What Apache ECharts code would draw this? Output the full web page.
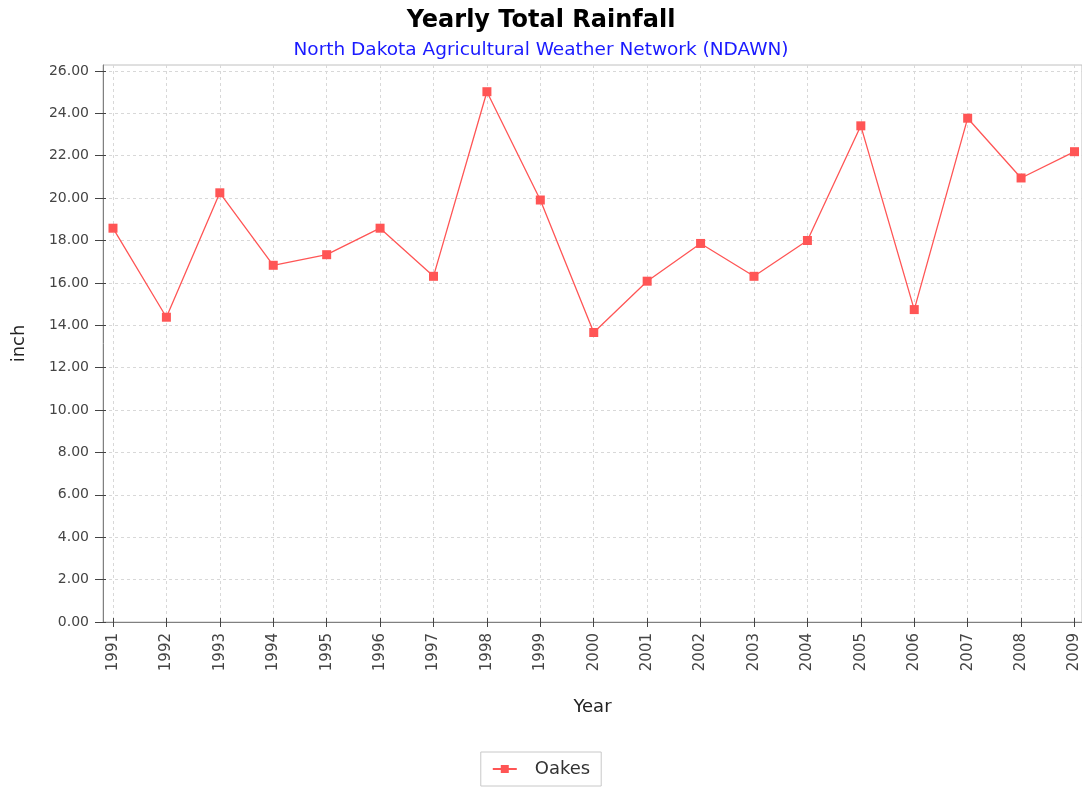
<!DOCTYPE html>
<html>
<head>
<meta charset="utf-8">
<script src="https://cdn.jsdelivr.net/npm/echarts@6/dist/echarts.min.js"></script>
<style>
  html, body { margin: 0; padding: 0; background: #fff; }
  #chart { width: 1082px; height: 787px; }
</style>
</head>
<body>
<div id="chart"></div>
<script>
const years = [1991, 1992, 1993, 1994, 1995, 1996, 1997, 1998, 1999, 2000,
  2001, 2002, 2003, 2004, 2005, 2006, 2007, 2008, 2009];
const oakes = [18.58, 14.38, 20.25, 16.83, 17.33, 18.58, 16.31, 25.02, 19.91, 13.66,
  16.08, 17.86, 16.31, 18.0, 23.41, 14.74, 23.77, 20.95, 22.19];
const yTicks = [0, 2, 4, 6, 8, 10, 12, 14, 16, 18, 20, 22, 24, 26];

const font = 'DejaVu Sans';
const xMin = 1990.813, xMax = 2009.14;
const yMin = 0, yMax = 26.28;
const chart = echarts.init(document.getElementById('chart'));

chart.setOption({
  animation: false,
  backgroundColor: '#fff',
  title: [{
    text: 'Yearly Total Rainfall',
    left: 'center',
    top: 4,
    textStyle: { fontFamily: font, fontSize: 24, fontWeight: 'bold', color: '#000' }
  }, {
    text: 'North Dakota Agricultural Weather Network (NDAWN)',
    left: 'center',
    top: 36,
    textStyle: { fontFamily: font, fontSize: 18.5, fontWeight: 'normal', color: '#1a1aff' }
  }],
  legend: {
    left: 'center',
    top: 752,
    padding: [8, 11, 8, 11],
    borderColor: '#c8c8c8',
    borderWidth: 1,
    itemWidth: 24,
    itemHeight: 10,
    textStyle: { fontFamily: font, fontSize: 18, color: '#333', padding: [0, 0, 0, 13] },
    data: ['Oakes']
  },
  grid: {
    left: 103, right: 0, top: 65, bottom: 165,
    show: true, borderColor: '#c0c0c0', borderWidth: 1
  },
  xAxis: [{
    type: 'value',
    min: xMin,
    max: xMax,
    name: 'Year',
    nameLocation: 'middle',
    nameGap: 76,
    nameTextStyle: { fontFamily: font, fontSize: 18, color: '#222' },
    axisLine: { lineStyle: { color: '#808080', width: 1 } },
    axisTick: { show: true, length: 5, customValues: years, lineStyle: { color: '#444' } },
    axisLabel: {
      customValues: years, rotate: 90, margin: 11,
      fontFamily: font, fontSize: 15, color: '#444',
      formatter: v => String(v)
    },
    splitLine: { show: true, lineStyle: { color: '#d8d8d8', type: [3, 3] } }
  }, {
    type: 'value',
    position: 'bottom',
    min: xMin,
    max: xMax,
    axisLine: { show: false },
    axisTick: { show: true, inside: true, length: 4, customValues: years, lineStyle: { color: '#444' } },
    axisLabel: { show: false },
    splitLine: { show: false }
  }],
  yAxis: [{
    type: 'value',
    min: yMin,
    max: yMax,
    name: 'inch',
    nameLocation: 'middle',
    nameGap: 75,
    nameTextStyle: { fontFamily: font, fontSize: 18, color: '#222' },
    axisLine: { show: true, lineStyle: { color: '#808080', width: 1 } },
    axisTick: { show: true, length: 8, customValues: yTicks, lineStyle: { color: '#444' } },
    axisLabel: {
      customValues: yTicks, margin: 14,
      fontFamily: font, fontSize: 14, color: '#444',
      formatter: v => v.toFixed(2)
    },
    splitLine: { show: true, lineStyle: { color: '#d8d8d8', type: [3, 3] } }
  }, {
    type: 'value',
    position: 'left',
    min: yMin,
    max: yMax,
    axisLine: { show: false },
    axisTick: { show: true, inside: true, length: 3, customValues: yTicks, lineStyle: { color: '#444' } },
    axisLabel: { show: false },
    splitLine: { show: false }
  }],
  series: [{
    name: 'Oakes',
    type: 'line',
    xAxisIndex: 0,
    yAxisIndex: 0,
    data: years.map((y, i) => [y, oakes[i]]),
    symbol: 'rect',
    symbolSize: 9,
    itemStyle: { color: '#ff5555' },
    lineStyle: { color: '#ff5555', width: 1.3 }
  }]
});
</script>
</body>
</html>
